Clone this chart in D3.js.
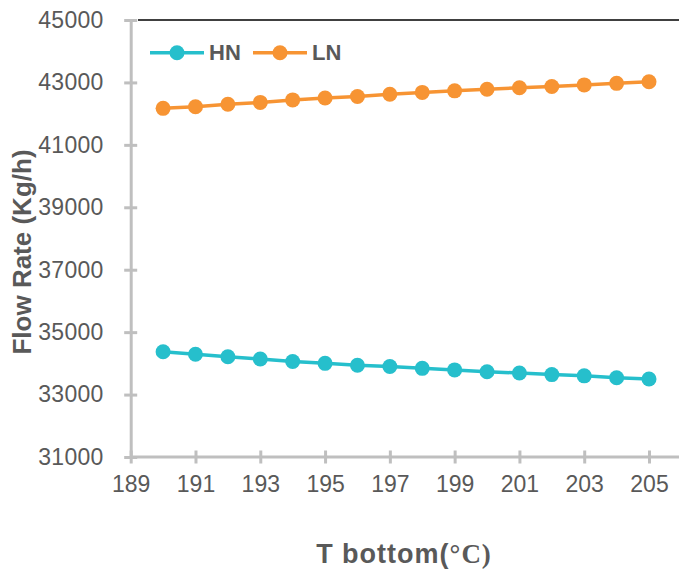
<!DOCTYPE html>
<html><head><meta charset="utf-8">
<script src="https://cdn.jsdelivr.net/npm/d3@7"></script>
<style>body{margin:0;background:#fff}svg{display:block}</style>
</head><body>
<script>
const temps = [190,191,192,193,194,195,196,197,198,199,200,201,202,203,204,205];
const hnValues = [34370,34290,34210,34140,34060,34000,33940,33900,33840,33790,33730,33690,33640,33600,33540,33500];
const lnValues = [42170,42220,42300,42360,42440,42500,42550,42620,42680,42730,42780,42830,42870,42920,42970,43020];
const yTicks = [31000,33000,35000,37000,39000,41000,43000,45000];
const xTicks = [189,191,193,195,197,199,201,203,205];
const seriesNames = ["HN","LN"];
const colors = ["#26BFCC","#F79433"];

const W=679,H=571;
const svg=d3.select("body").append("svg").attr("width",W).attr("height",H);
const x=d3.scaleLinear().domain([189,205]).range([130.7,649]);
const y=d3.scaleLinear().domain([31000,45000]).range([457,20]);

// top border
svg.append("line").attr("x1",138).attr("x2",679).attr("y1",y(45000)).attr("y2",y(45000)).attr("stroke","#000").attr("stroke-width",1.5);

const grey="#BFBFBF", txt="#595959";
const font="Liberation Sans, Arial, sans-serif";
// y axis
const ya=svg.append("g").attr("transform",`translate(${x(189)},0)`)
 .call(d3.axisLeft(y).tickValues(yTicks).tickSizeInner(6).tickSizeOuter(0).tickPadding(21).tickFormat(d3.format("d")));
ya.select(".domain").attr("stroke",grey).attr("stroke-width",3);
ya.selectAll(".tick line").attr("stroke",grey).attr("stroke-width",3).attr("x1",6.5).attr("x2",-6.5);
ya.selectAll("text").attr("fill",txt).style("font-family",font).style("font-size","23px").attr("letter-spacing","0.3px");
// x axis
const xa=svg.append("g").attr("transform",`translate(0,${y(31000)})`)
 .call(d3.axisBottom(x).tickValues(xTicks).tickSizeInner(6).tickSizeOuter(0).tickPadding(13).tickFormat(d3.format("d")));
xa.select(".domain").attr("stroke",grey).attr("stroke-width",3).attr("d",`M${x(189)},0H679`);
xa.selectAll(".tick line").attr("stroke",grey).attr("stroke-width",3).attr("y1",-6.5).attr("y2",6.5);
xa.selectAll("text").attr("fill",txt).style("font-family",font).style("font-size","23px");

const series=[hnValues,lnValues];
const line=d3.line().x((d,i)=>x(temps[i])).y(d=>y(d));
series.forEach((vals,k)=>{
  svg.append("path").datum(vals).attr("d",line).attr("fill","none").attr("stroke",colors[k]).attr("stroke-width",3.5);
  svg.append("g").selectAll("circle").data(vals).join("circle")
    .attr("cx",(d,i)=>x(temps[i])).attr("cy",d=>y(d)).attr("r",7.5).attr("fill",colors[k]);
});

// legend
const lg=svg.append("g");
seriesNames.forEach((n,k)=>{
  const x0=150+k*103;
  lg.append("line").attr("x1",x0).attr("x2",x0+54).attr("y1",52.7).attr("y2",52.7).attr("stroke",colors[k]).attr("stroke-width",3.5);
  lg.append("circle").attr("cx",x0+27).attr("cy",52.7).attr("r",7.5).attr("fill",colors[k]);
  lg.append("text").attr("x",x0+59).attr("y",59.5).text(n).attr("fill",txt)
    .style("font-family",font).style("font-weight","bold").style("font-size","22px");
});

// axis titles
svg.append("text").attr("transform","translate(31,252) rotate(-90)").attr("text-anchor","middle")
  .attr("fill",txt).style("font-family",font).style("font-weight","bold").style("font-size","26px")
  .text("Flow Rate (Kg/h)");
const xt=svg.append("text").attr("x",404).attr("y",563).attr("text-anchor","middle").attr("fill",txt)
  .style("font-family",font).style("font-weight","bold").style("font-size","27px").attr("letter-spacing","1px");
xt.append("tspan").text("T bottom(");
xt.append("tspan").style("font-family","Liberation Serif, Times New Roman, serif").text("°C)");
</script>
</body></html>
